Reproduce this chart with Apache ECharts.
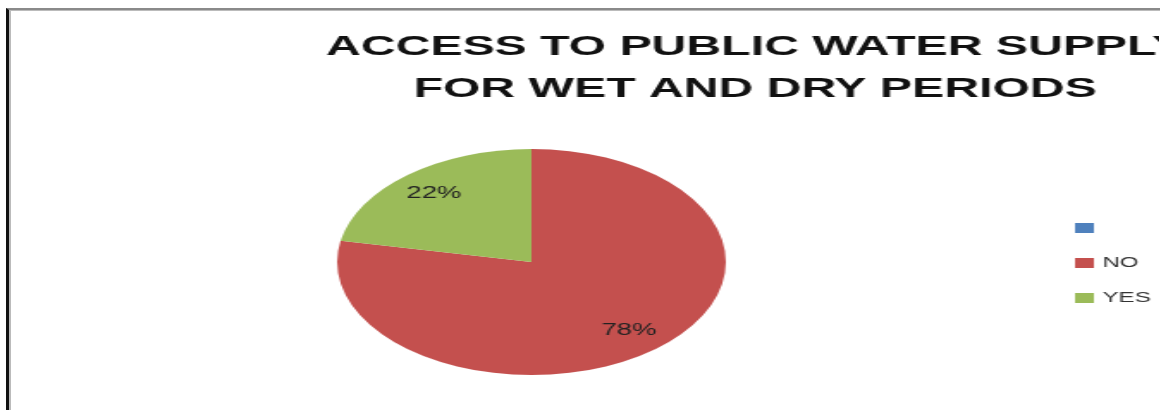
<!DOCTYPE html>
<html>
<head>
<meta charset="utf-8">
<script src="https://cdn.jsdelivr.net/npm/echarts@6/dist/echarts.min.js"></script>
<style>
  html, body { margin: 0; padding: 0; background: #fff; overflow: hidden; }
  #frame {
    position: absolute; left: 6px; top: 8px; width: 1160px; height: 410px;
    border-left: 3px solid #111; border-top: 2px solid #8a8a8a;
    box-shadow: inset 2px 1px 0 #bbb;
  }
  /* the reference picture is stretched sideways, so the chart is too */
  #chart {
    position: absolute; left: 0; top: 0; width: 674px; height: 410px;
    transform: scaleX(1.72); transform-origin: 0 0;
  }
</style>
</head>
<body>
<div id="frame"></div>
<div id="chart"></div>
<script>
var categories = [' ', 'NO', 'YES']
var values = [0, 78, 22]
var colors = ['#4f81bd', '#c4504e', '#9bbb59']
var titleText = 'ACCESS TO PUBLIC WATER SUPPLY\nFOR WET AND DRY PERIODS'

var chart = echarts.init(document.getElementById('chart'))

function pieData(withColor) {
  var arr = []
  for (var i = 0; i < categories.length; i++) {
    var item = { name: categories[i], value: values[i] }
    if (withColor) item.itemStyle = { color: colors[i] }
    arr.push(item)
  }
  return arr
}

chart.setOption({
  animation: false,
  title: {
    text: titleText,
    left: 434,
    top: 21,
    textAlign: 'center',
    textStyle: {
      fontFamily: 'Liberation Sans',
      fontWeight: 'bold',
      fontSize: 28,
      lineHeight: 42,
      color: '#111'
    }
  },
  legend: {
    orient: 'vertical',
    left: 620,
    top: 216,
    itemWidth: 11,
    itemHeight: 10,
    itemGap: 21,
    icon: 'rect',
    textStyle: { fontFamily: 'Liberation Sans', fontSize: 14, color: '#333' },
    data: categories
  },
  series: [
    {
      type: 'pie',
      center: [309, 262],
      radius: [0, 113],
      startAngle: 90,
      clockwise: true,
      label: { show: false },
      labelLine: { show: false },
      data: pieData(true)
    },
    {
      // overlay only for the percentage labels (sits them at ~3/4 radius)
      type: 'pie',
      silent: true,
      legendHoverLink: false,
      center: [309, 262],
      radius: [59, 113],
      startAngle: 90,
      clockwise: true,
      itemStyle: { color: 'rgba(0,0,0,0)' },
      label: {
        show: true,
        position: 'inside',
        formatter: function (p) {
          return p.value > 0 ? p.percent.toFixed(0) + '%' : ''
        },
        fontFamily: 'Liberation Sans',
        fontSize: 16,
        color: '#222'
      },
      labelLine: { show: false },
      data: pieData(false)
    }
  ]
})
</script>
</body>
</html>
